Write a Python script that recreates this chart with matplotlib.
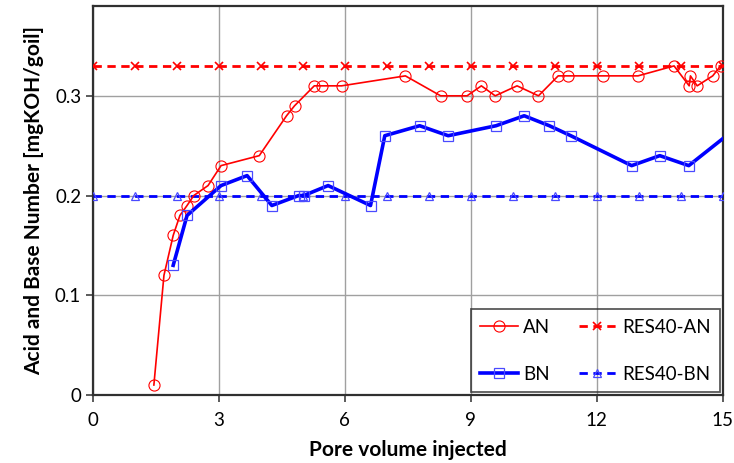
import matplotlib
matplotlib.use('Agg')
import matplotlib.pyplot as plt

plt.rcParams['font.family'] = ['Lato', 'DejaVu Sans']

# AN measurements
an_pv = [1.45, 1.69, 1.91, 2.07, 2.24, 2.40, 2.74, 3.05, 3.96, 4.61, 4.80, 5.27,
         5.45, 5.92, 7.44, 8.28, 8.91, 9.25, 9.58, 10.10, 10.61, 11.08, 11.32,
         12.15, 12.98, 13.84, 14.20, 14.23, 14.39, 14.76, 14.95]
an_val = [0.01, 0.12, 0.16, 0.18, 0.19, 0.20, 0.21, 0.23, 0.24, 0.28, 0.29, 0.31,
          0.31, 0.31, 0.32, 0.30, 0.30, 0.31, 0.30, 0.31, 0.30, 0.32, 0.32,
          0.32, 0.32, 0.33, 0.31, 0.32, 0.31, 0.32, 0.33]

# BN measurements (last point lies past the axis limit)
bn_pv = [1.91, 2.24, 3.05, 3.67, 4.26, 4.90, 5.02, 5.60, 6.61, 6.95, 7.78, 8.46,
         9.60, 10.27, 10.87, 11.38, 12.83, 13.50, 14.19, 15.60]
bn_val = [0.13, 0.18, 0.21, 0.22, 0.19, 0.20, 0.20, 0.21, 0.19, 0.26, 0.27, 0.26,
          0.27, 0.28, 0.27, 0.26, 0.23, 0.24, 0.23, 0.277]

# reference lines
res_pv = list(range(0, 16))
res_an = [0.33] * len(res_pv)
res_bn = [0.20] * len(res_pv)

fig = plt.figure(figsize=(7.34, 4.63), dpi=100)
ax = fig.add_axes([0.1267, 0.1469, 0.858, 0.840])

l_an, = ax.plot(an_pv, an_val, '-', color='red', lw=1.2, marker='o', ms=8,
                mfc='none', mec='red', mew=0.8, label='AN', zorder=4)
l_ran, = ax.plot(res_pv, res_an, '--', color='red', lw=2, marker='x', ms=6,
                 mew=1.2, label='RES40-AN', dashes=(3, 2), zorder=3)
l_bn, = ax.plot(bn_pv, bn_val, '-', color='blue', lw=2.6, marker='s', ms=7,
                mfc='none', mec='#4a4aff', mew=0.9, label='BN', zorder=4)
l_rbn, = ax.plot(res_pv, res_bn, '--', color='blue', lw=2, marker='^', ms=6,
                 mfc='none', mec='#4a4aff', mew=0.9, label='RES40-BN', dashes=(3, 2), zorder=3)

ax.set_xlim(0, 15)
ax.set_ylim(0, 0.39)
ax.set_xticks([0, 3, 6, 9, 12, 15])
ax.set_yticks([0, 0.1, 0.2, 0.3])
ax.set_yticklabels(['0', '0.1', '0.2', '0.3'])
ax.grid(True, color='#a0a0a0', lw=1)
ax.set_axisbelow(True)
ax.tick_params(labelsize=13.5, direction='out', length=5, width=1.2, color='#404040')
ax.tick_params(axis='x', pad=7)
for s in ax.spines.values():
    s.set_color('#303030')
    s.set_linewidth(1.6)

ax.set_xlabel('Pore volume injected', fontsize=15, fontweight='bold', labelpad=8)
ax.set_ylabel('Acid and Base Number [mgKOH/goil]', fontsize=15, fontweight='bold', labelpad=8)

# column-wise fill: AN, BN | RES40-AN, RES40-BN
leg = ax.legend([l_an, l_bn, l_ran, l_rbn], ['AN', 'BN', 'RES40-AN', 'RES40-BN'], ncol=2,
                loc='lower left', bbox_to_anchor=(9, 0.003, 5.93, 0.097),
                bbox_transform=ax.transData, mode='expand', fontsize=13.5,
                frameon=True, fancybox=False, edgecolor='#303030',
                handlelength=2.0, handletextpad=0.3, borderaxespad=0,
                labelspacing=1.6, borderpad=0.5, columnspacing=1.0)
leg.get_frame().set_facecolor('none')
leg.get_frame().set_linewidth(1.3)

fig.savefig('out.png', dpi=100)
